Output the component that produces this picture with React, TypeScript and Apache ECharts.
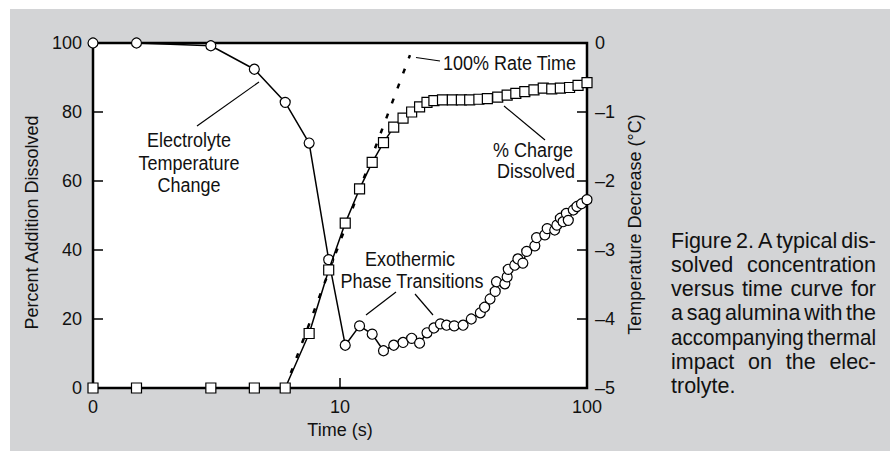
import React, { useEffect, useRef } from "react";
import * as echarts from "echarts";

// ---- data ----
const timeCharge = [1, 1.5, 3, 4.5, 6, 7.5, 9, 10.5, 12, 13.5, 15, 16.5, 18, 19.5, 21, 22.5, 24, 26, 28.5, 31, 33.5, 36.5, 39.5, 43.5, 47.5, 51.5, 56, 61, 66.5, 72, 78, 85, 92, 100];
const chargeDissolved = [0, 0, 0, 0, 0, 15.8, 34.2, 47.8, 57.7, 65.4, 71.1, 75.6, 78.2, 80.0, 81.5, 82.8, 83.3, 83.5, 83.5, 83.5, 83.5, 83.7, 83.9, 84.3, 84.9, 85.4, 85.9, 86.4, 86.9, 86.7, 86.9, 87.1, 87.7, 88.5];

const timeTemp = [1, 1.5, 3, 4.5, 6, 7.5, 9, 10.5, 12, 13.5, 15, 16.5, 18, 19.5, 21, 22.5, 24, 25.5, 27, 29, 31.5, 34, 37, 38.5, 40.5, 42.5, 43, 46.5, 47.5, 48, 51, 52.5, 55, 57, 61.5, 62.5, 67.5, 69, 74, 75.5, 78, 80, 82.5, 84, 88, 91, 95, 100];
const tempChange = [0, 0, -0.04, -0.38, -0.86, -1.45, -3.14, -4.38, -4.10, -4.22, -4.46, -4.38, -4.34, -4.28, -4.35, -4.20, -4.13, -4.07, -4.09, -4.10, -4.09, -4.00, -3.91, -3.83, -3.71, -3.60, -3.46, -3.49, -3.39, -3.28, -3.22, -3.13, -3.19, -3.02, -2.94, -2.82, -2.78, -2.69, -2.71, -2.64, -2.54, -2.59, -2.47, -2.57, -2.42, -2.37, -2.33, -2.27];

const rateTime = [6, 19.2];
const rateValue = [0, 96.5];

const xTickLabels: Record<number, string> = { 1: "0", 10: "10", 100: "100" };

const captionLines = [
  "Figure 2. A typical dis-",
  "solved concentration",
  "versus time curve for",
  "a sag alumina with the",
  "accompanying thermal",
  "impact on the elec-",
  "trolyte.",
];

const FONT = '"Liberation Sans", Arial, Helvetica, sans-serif';
const INK = "#111";

function buildCaption(): any[] {
  const left = 671;
  const right = 876;
  const top = 241;
  const step = 24.1;
  const size = 21.5;
  const canvas = document.createElement("canvas");
  const ctx = canvas.getContext("2d") as CanvasRenderingContext2D;
  ctx.font = `${size}px "Liberation Sans"`;
  const spaceW = ctx.measureText(" ").width;
  const avail = right - left;
  const out: any[] = [];
  captionLines.forEach((line, i) => {
    const y = top + i * step;
    const words = line.split(" ");
    const last = i === captionLines.length - 1;
    const widths = words.map((w) => ctx.measureText(w).width);
    const total = widths.reduce((a, b) => a + b, 0);
    const natural = total + (words.length - 1) * spaceW * 0.6;
    const s = natural > avail ? avail / natural : 1;
    let gap: number;
    if (last || words.length < 2) {
      gap = spaceW;
    } else {
      gap = (avail - total * s) / (words.length - 1);
    }
    let x = left;
    words.forEach((w, k) => {
      out.push({
        type: "text",
        x,
        y,
        scaleX: s,
        style: { text: w, x: 0, y: 0, fill: INK, fontSize: size, fontFamily: FONT, textAlign: "left", textVerticalAlign: "middle" },
      });
      x += widths[k] * s + gap;
    });
  });
  return out;
}

function label(text: string, x: number, y: number, align = "center") {
  return {
    type: "text",
    z: 50,
    x,
    y,
    scaleY: 1.1,
    style: { text, x: 0, y: 0, fill: INK, fontSize: 18, fontFamily: FONT, textAlign: align, textVerticalAlign: "middle" },
  };
}

function leader(x1: number, y1: number, x2: number, y2: number) {
  return {
    type: "line",
    z: 50,
    shape: { x1, y1, x2, y2 },
    style: { stroke: "#000", lineWidth: 1.2 },
  };
}

export default function App() {
  const ref = useRef<HTMLDivElement>(null);

  useEffect(() => {
    if (!ref.current) return;
    const chart = echarts.init(ref.current, undefined, { renderer: "svg" });

    const chargeData = timeCharge.map((t, i) => [t, chargeDissolved[i]]);
    const tempData = timeTemp.map((t, i) => [t, tempChange[i]]);
    const rateData = rateTime.map((t, i) => [t, rateValue[i]]);

    const textStyle = { color: INK, fontSize: 18, fontFamily: FONT };

    chart.setOption({
      animation: false,
      backgroundColor: "#ffffff",
      textStyle: { fontFamily: FONT },
      grid: {
        left: 93,
        top: 43,
        right: 303,
        bottom: 63,
        show: true,
        backgroundColor: "#ffffff",
        borderColor: "#000",
        borderWidth: 2.5,
        containLabel: false,
      },
      xAxis: {
        type: "log",
        logBase: 10,
        min: 1,
        max: 100,
        name: "Time (s)",
        nameLocation: "middle",
        nameGap: 31,
        nameTextStyle: textStyle,
        axisLine: { show: false },
        axisTick: { show: true, inside: true, length: 10, lineStyle: { color: "#000", width: 1.5 } },
        axisLabel: {
          ...textStyle,
          margin: 10,
          formatter: (v: number) => xTickLabels[Math.round(v)] ?? "",
        },
        splitLine: { show: false },
        minorTick: { show: false },
      },
      yAxis: [
        {
          type: "value",
          min: 0,
          max: 100,
          interval: 20,
          position: "left",
          name: "Percent Addition Dissolved",
          nameLocation: "middle",
          nameGap: 46,
          nameTextStyle: { ...textStyle, padding: [0, 14, 0, 0] },
          axisLine: { show: false },
          axisTick: { show: true, inside: true, length: 10, lineStyle: { color: "#000", width: 1.5 } },
          axisLabel: { ...textStyle, margin: 11 },
          splitLine: { show: false },
        },
        {
          type: "value",
          min: -5,
          max: 0,
          interval: 1,
          position: "right",
          name: "Temperature Decrease (°C)",
          nameLocation: "middle",
          nameGap: 38,
          nameTextStyle: { ...textStyle, padding: [0, 18, 0, 0] },
          axisLine: { show: false },
          axisTick: { show: true, inside: true, length: 10, lineStyle: { color: "#000", width: 1.5 } },
          axisLabel: {
            ...textStyle,
            margin: 8,
            formatter: (v: number) => (v === 0 ? "0" : "\u2013" + Math.abs(v)),
          },
          splitLine: { show: false },
        },
      ],
      series: [
        {
          name: "Electrolyte Temperature Change",
          type: "line",
          yAxisIndex: 1,
          data: tempData,
          clip: false,
          symbol: "circle",
          symbolSize: 10,
          itemStyle: { color: "#fff", borderColor: "#000", borderWidth: 1.2 },
          lineStyle: { color: "#000", width: 1.5 },
          z: 3,
        },
        {
          name: "100% Rate Time",
          type: "line",
          yAxisIndex: 0,
          data: rateData,
          clip: false,
          symbol: "none",
          lineStyle: { color: "#000", width: 2.5, type: [5, 11] },
          z: 2,
        },
        {
          name: "% Charge Dissolved",
          type: "line",
          yAxisIndex: 0,
          data: chargeData,
          clip: false,
          symbol: "rect",
          symbolSize: 10,
          itemStyle: { color: "#fff", borderColor: "#000", borderWidth: 1.2 },
          lineStyle: { color: "#000", width: 1.5 },
          z: 4,
        },
      ],
      graphic: [
        {
          type: "rect",
          z: -100,
          silent: true,
          shape: { x: 10, y: 9, width: 880, height: 442 },
          style: { fill: "#d3d4d6" },
        },
        label("Electrolyte", 189, 140),
        label("Temperature", 189, 163),
        label("Change", 189, 185),
        leader(197, 126, 259, 82),
        label("Exothermic", 410, 259),
        label("Phase Transitions", 412, 281),
        leader(396, 292, 366, 315),
        leader(415, 294, 433, 315),
        label("100% Rate Time", 443, 63, "left"),
        leader(416, 57.5, 440, 61),
        label("% Charge", 533, 150),
        label("Dissolved", 536, 171),
        leader(504, 106, 545, 140),
        ...buildCaption(),
      ],
    });

    return () => {
      chart.dispose();
    };
  }, []);

  return (
    <div
      ref={ref}
      style={{ position: "fixed", left: 0, top: 0, width: 890, height: 451 }}
    />
  );
}
